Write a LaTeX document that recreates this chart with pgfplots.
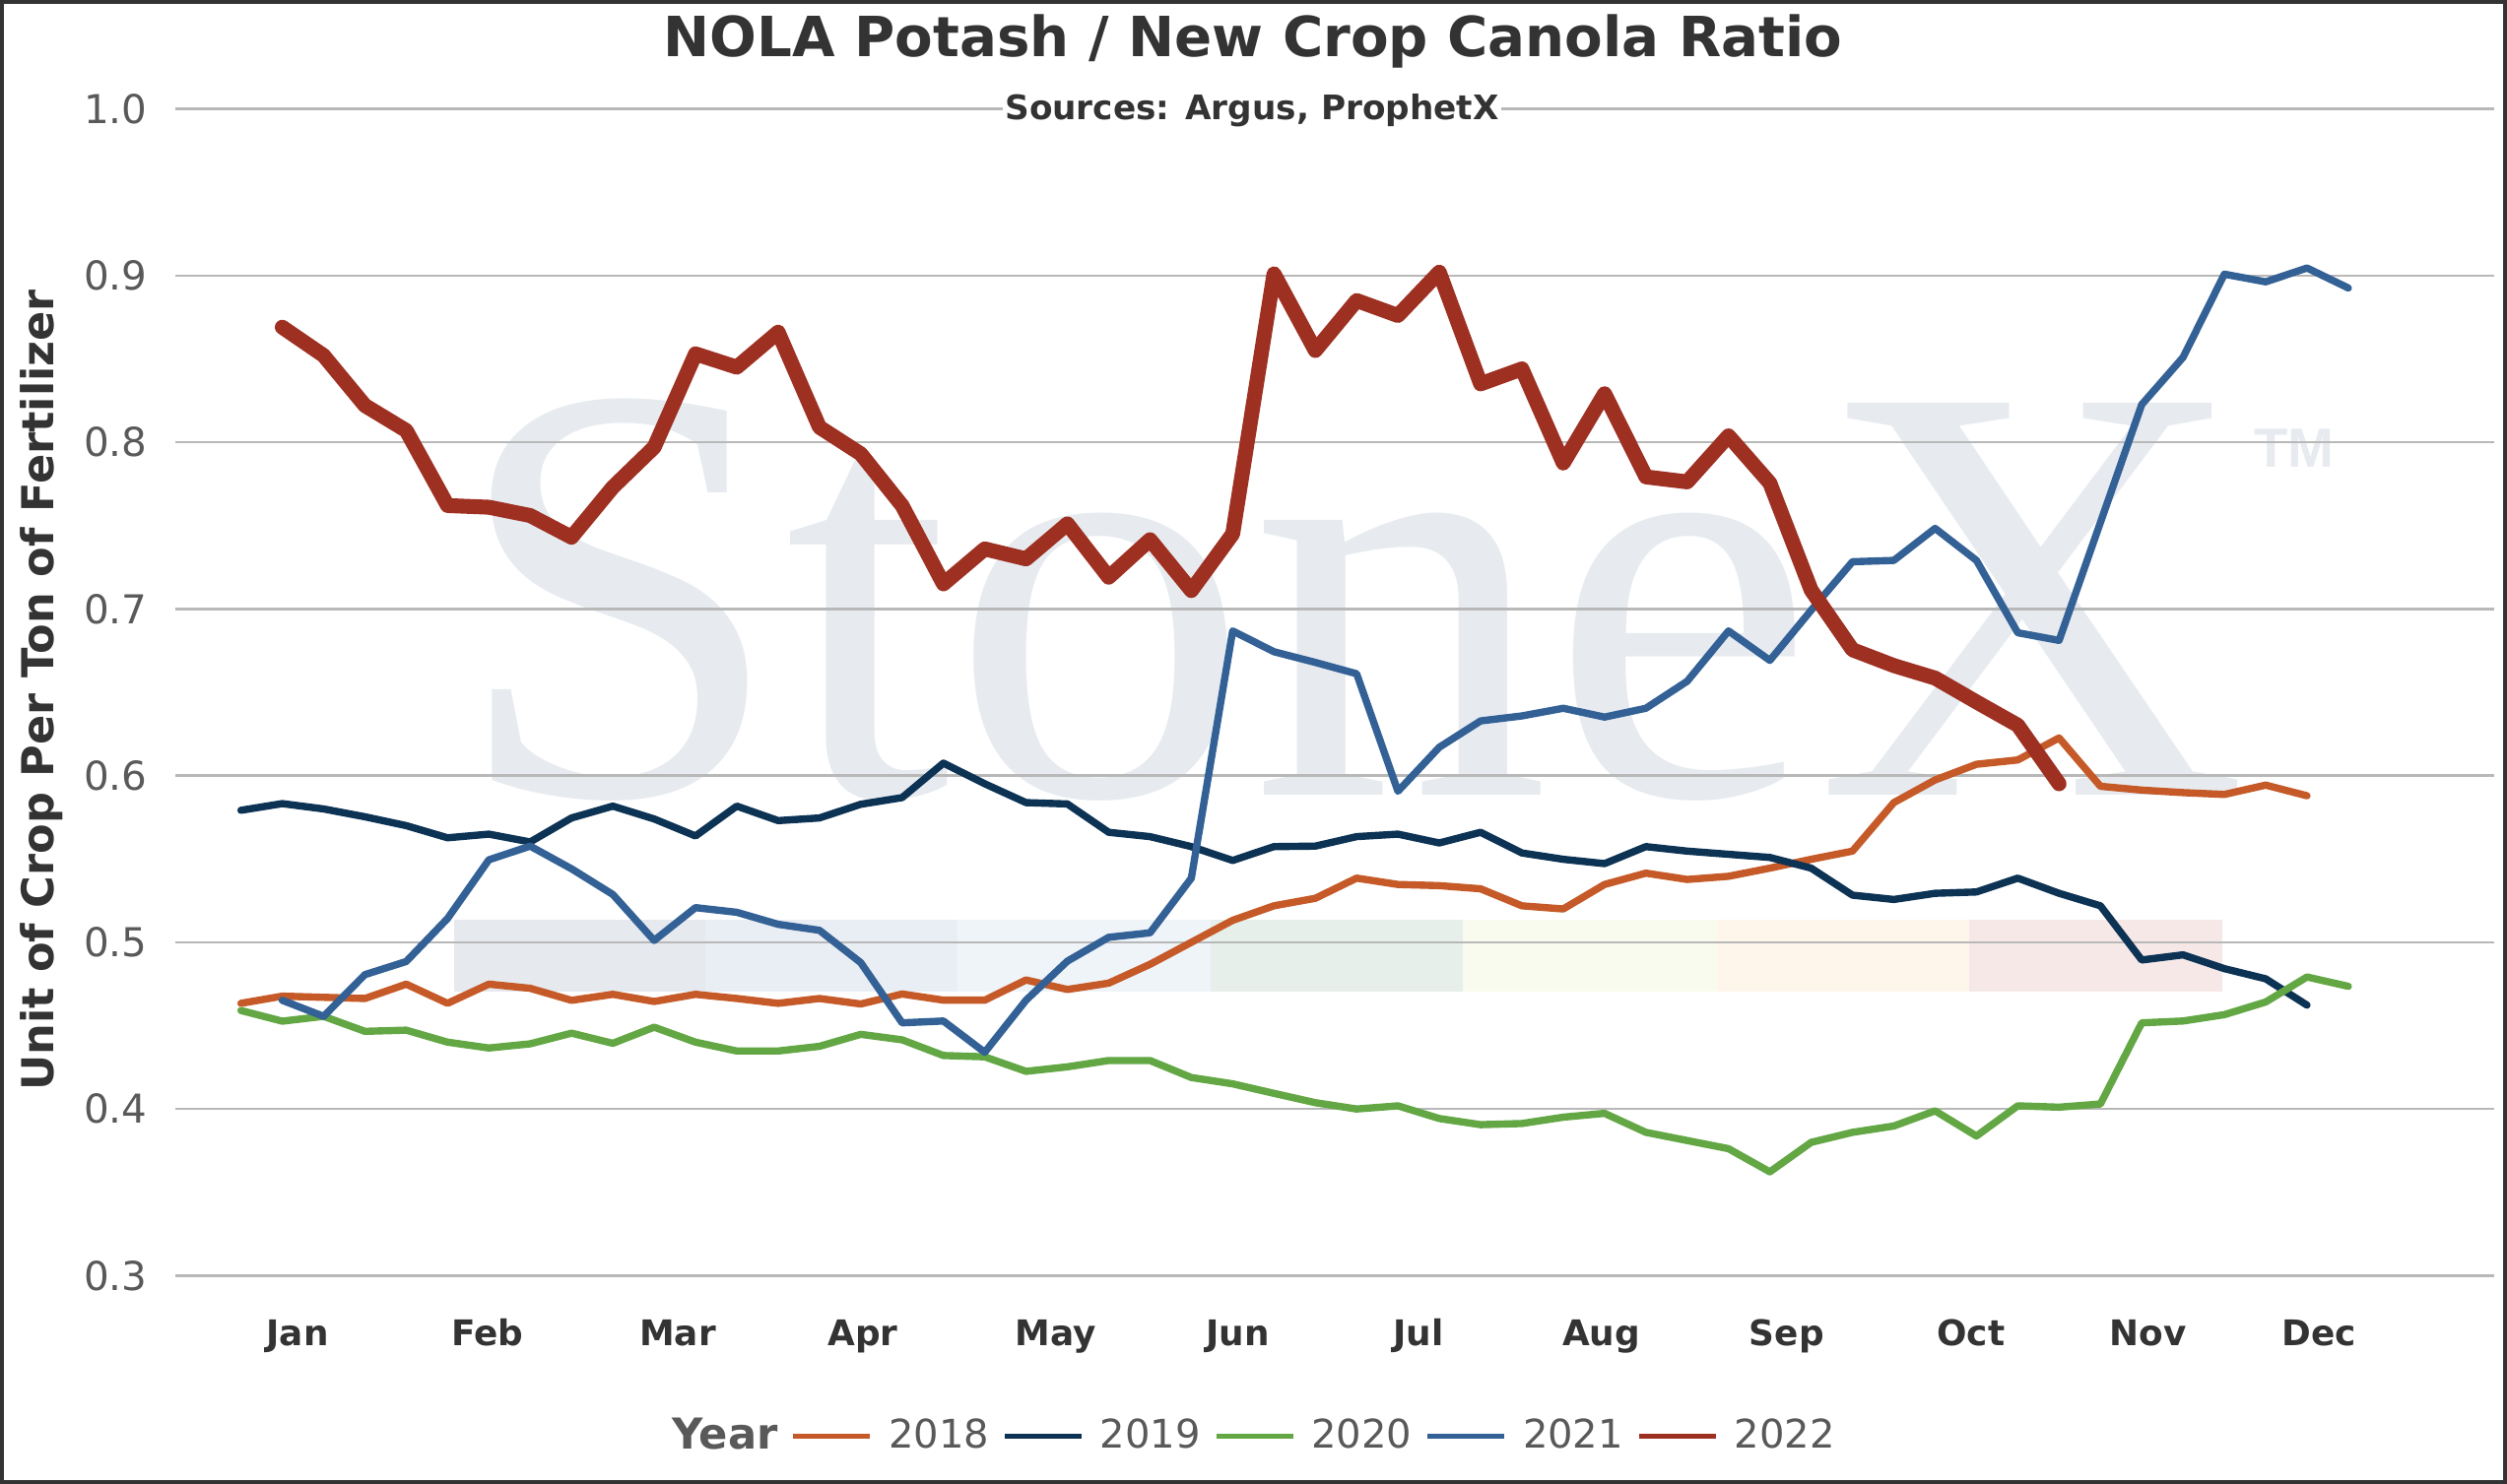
\documentclass[border=0pt]{standalone}
\usepackage{fontspec}
\setmainfont{DejaVu Sans}
\newfontfamily\wmfont{Liberation Serif}
\newfontfamily\tmfont{Liberation Sans}
\usepackage{pgfplots}
\usepackage{pgfplotstable}
\pgfplotsset{compat=1.18}

\definecolor{c2018}{RGB}{197,90,40}
\definecolor{c2019}{RGB}{12,50,84}
\definecolor{c2020}{RGB}{99,167,69}
\definecolor{c2021}{RGB}{51,97,150}
\definecolor{c2022}{RGB}{158,48,34}
\definecolor{gridgray}{RGB}{184,184,184}
\definecolor{tickgray}{RGB}{89,89,89}
\definecolor{darktext}{RGB}{51,51,51}
\definecolor{wmcolor}{RGB}{231,235,240}
\definecolor{barA}{RGB}{230,233,238}
\definecolor{barB}{RGB}{233,237,244}
\definecolor{barC}{RGB}{239,244,248}
\definecolor{barD}{RGB}{230,239,233}
\definecolor{barE}{RGB}{250,251,239}
\definecolor{barF}{RGB}{254,246,234}
\definecolor{barG}{RGB}{247,232,232}

\pgfplotstableread{
k v
0 0.4634
1 0.4677
2 0.4670
3 0.4663
4 0.4749
5 0.4634
6 0.4749
7 0.4724
8 0.4652
9 0.4688
10 0.4645
11 0.4688
12 0.4663
13 0.4634
14 0.4663
15 0.4630
16 0.4690
17 0.4653
18 0.4653
19 0.4774
20 0.4717
21 0.4755
22 0.4868
23 0.5000
24 0.5132
25 0.5219
26 0.5264
27 0.5385
28 0.5347
29 0.5340
30 0.5321
31 0.5219
32 0.5200
33 0.5347
34 0.5415
35 0.5377
36 0.5396
37 0.5445
38 0.5498
39 0.5547
40 0.5838
41 0.5974
42 0.6068
43 0.6094
44 0.6226
45 0.5936
46 0.5913
47 0.5898
48 0.5887
49 0.5943
50 0.5879
}\tEighteen

\pgfplotstableread{
k v
0 0.5792
1 0.5832
2 0.5800
3 0.5753
4 0.5700
5 0.5627
6 0.5649
7 0.5602
8 0.5746
9 0.5817
10 0.5740
11 0.5638
12 0.5817
13 0.5730
14 0.5746
15 0.5828
16 0.5868
17 0.6075
18 0.5951
19 0.5838
20 0.5830
21 0.5660
22 0.5634
23 0.5574
24 0.5491
25 0.5574
26 0.5577
27 0.5634
28 0.5649
29 0.5596
30 0.5660
31 0.5536
32 0.5498
33 0.5472
34 0.5574
35 0.5547
36 0.5528
37 0.5509
38 0.5445
39 0.5283
40 0.5257
41 0.5294
42 0.5302
43 0.5385
44 0.5294
45 0.5219
46 0.4894
47 0.4925
48 0.4842
49 0.4781
50 0.4623
}\tNineteen

\pgfplotstableread{
k v
0 0.4591
1 0.4527
2 0.4556
3 0.4466
4 0.4473
5 0.4401
6 0.4366
7 0.4391
8 0.4455
9 0.4394
10 0.4491
11 0.4401
12 0.4348
13 0.4348
14 0.4376
15 0.4448
16 0.4415
17 0.4321
18 0.4313
19 0.4226
20 0.4253
21 0.4291
22 0.4291
23 0.4189
24 0.4151
25 0.4094
26 0.4038
27 0.4000
28 0.4019
29 0.3943
30 0.3906
31 0.3913
32 0.3951
33 0.3974
34 0.3860
35 0.3811
36 0.3762
37 0.3623
38 0.3800
39 0.3860
40 0.3898
41 0.3989
42 0.3838
43 0.4019
44 0.4011
45 0.4030
46 0.4517
47 0.4528
48 0.4566
49 0.4642
50 0.4792
51 0.4736
}\tTwenty

\pgfplotstableread{
k v
1 0.4652
2 0.4556
3 0.4806
4 0.4885
5 0.5143
6 0.5495
7 0.5577
8 0.5441
9 0.5287
10 0.5011
11 0.5208
12 0.5180
13 0.5108
14 0.5072
15 0.4878
16 0.4517
17 0.4528
18 0.4340
19 0.4653
20 0.4887
21 0.5030
22 0.5057
23 0.5385
24 0.6868
25 0.6743
26 0.6679
27 0.6611
28 0.5906
29 0.6170
30 0.6328
31 0.6358
32 0.6404
33 0.6351
34 0.6404
35 0.6566
36 0.6868
37 0.6691
38 0.6992
39 0.7283
40 0.7291
41 0.7483
42 0.7291
43 0.6857
44 0.6811
46 0.8226
47 0.8509
48 0.9008
49 0.8962
50 0.9045
51 0.8925
}\tTwentyOne

\pgfplotstableread{
k v
1 0.869
2 0.852
3 0.822
4 0.807
5 0.762
6 0.761
7 0.756
8 0.743
9 0.773
10 0.797
11 0.853
12 0.845
13 0.866
14 0.809
15 0.793
16 0.762
17 0.715
18 0.736
19 0.730
20 0.751
21 0.719
22 0.7415
23 0.711
24 0.745
25 0.901
26 0.855
27 0.885
28 0.876
29 0.902
30 0.835
31 0.844
32 0.7875
33 0.8291
34 0.7792
35 0.7762
36 0.8038
37 0.7755
38 0.7113
39 0.6755
40 0.6660
41 0.6585
42 0.6442
43 0.6302
44 0.5951
}\tTwentyTwo

\begin{document}
\begin{tikzpicture}
\path (0,0) rectangle (25.45cm,15.07cm);
\begin{axis}[
  at={(1.78cm,2.115cm)}, anchor=south west,
  scale only axis, width=23.54cm, height=11.85cm,
  xmin=-1.588, xmax=54.53, ymin=0.3, ymax=1.0,
  set layers,
  axis line style={draw=none},
  major tick length=0pt,
  ytick={0.3,0.4,0.5,0.6,0.7,0.8,0.9,1.0},
  ymajorgrids,
  grid style={gridgray, line width=0.7pt},
  yticklabel style={
    /pgf/number format/.cd, fixed, fixed zerofill, precision=1, assume math mode=true,
    /tikz/.cd, anchor=east, inner sep=0pt, xshift=-2.8mm,
    font=\fontsize{11.5}{13}\selectfont, text=tickgray},
  xtick={1.37,5.97,10.57,15.05,19.71,24.12,28.50,32.92,37.41,41.87,46.16,50.30},
  xticklabels={Jan,Feb,Mar,Apr,May,Jun,Jul,Aug,Sep,Oct,Nov,Dec},
  xticklabel style={anchor=base, inner sep=0pt, yshift=-7.12mm,
    font=\bfseries\fontsize{10.2}{12}\selectfont, text=darktext},
  legend style={
    at={(0.2075,-0.1374)}, anchor=west,
    draw=none, fill=none, inner sep=0pt, outer sep=0pt,
    legend columns=-1,
    font=\fontsize{11.4}{13}\selectfont,
    text=tickgray,
    nodes={inner sep=0pt},
    /tikz/every odd column/.append style={column sep=1.6mm},
    /tikz/every even column/.append style={column sep=1.3mm},
  },
  legend cell align=left,
  legend image code/.code={\draw[#1, line width=1.6pt, line cap=butt] (0mm,0mm) -- (7.8mm,0mm);},
]
\begin{pgfonlayer}{axis background}
\node[anchor=base west, inner sep=0pt, text=wmcolor, font=\wmfont\fontsize{173}{173}\selectfont] at (axis cs:5.09,0.588) {StoneX};
\node[anchor=north west, inner sep=0pt, text=wmcolor, font=\tmfont\bfseries\fontsize{16}{16}\selectfont] at (axis cs:48.7,0.8084) {TM};
\fill[barA] (axis cs:5.16,0.4707) rectangle (axis cs:11.24,0.5133);
\fill[barB] (axis cs:11.24,0.4707) rectangle (axis cs:17.34,0.5133);
\fill[barC] (axis cs:17.34,0.4707) rectangle (axis cs:23.46,0.5133);
\fill[barD] (axis cs:23.46,0.4707) rectangle (axis cs:29.57,0.5133);
\fill[barE] (axis cs:29.57,0.4707) rectangle (axis cs:35.72,0.5133);
\fill[barF] (axis cs:35.72,0.4707) rectangle (axis cs:41.82,0.5133);
\fill[barG] (axis cs:41.82,0.4707) rectangle (axis cs:47.94,0.5133);
\end{pgfonlayer}
\addlegendimage{empty legend}
\addlegendentry{\fontsize{12.3}{13}\selectfont\textbf{Year}}
\addplot[c2018, line width=2.1pt, line join=round, line cap=round] table[x=k,y=v]{\tEighteen};
\addlegendentry{2018}
\addplot[c2019, line width=2.1pt, line join=round, line cap=round] table[x=k,y=v]{\tNineteen};
\addlegendentry{2019}
\addplot[c2020, line width=2.1pt, line join=round, line cap=round] table[x=k,y=v]{\tTwenty};
\addlegendentry{2020}
\addplot[c2021, line width=2.1pt, line join=round, line cap=round] table[x=k,y=v]{\tTwentyOne};
\addlegendentry{2021}
\addplot[c2022, line width=4.3pt, line join=round, line cap=round] table[x=k,y=v]{\tTwentyTwo};
\addlegendentry{2022}
\end{axis}
\node[anchor=base, inner sep=0pt, text=darktext, font=\bfseries\fontsize{16}{19}\selectfont] at (12.72cm,14.49cm) {NOLA Potash / New Crop Canola Ratio};
\node[anchor=base, inner sep=0.6pt, fill=white, text=darktext, font=\bfseries\fontsize{9.75}{12}\selectfont] at (12.71cm,13.853cm) {Sources: Argus, ProphetX};
\node[rotate=90, inner sep=0pt, text=darktext, font=\bfseries\fontsize{12.7}{15}\selectfont] at (0.42cm,8.06cm) {Unit of Crop Per Ton of Fertilizer};
\draw[darktext, line width=0.4mm] (0.02cm,0.02cm) rectangle (25.43cm,15.05cm);
\end{tikzpicture}
\end{document}
